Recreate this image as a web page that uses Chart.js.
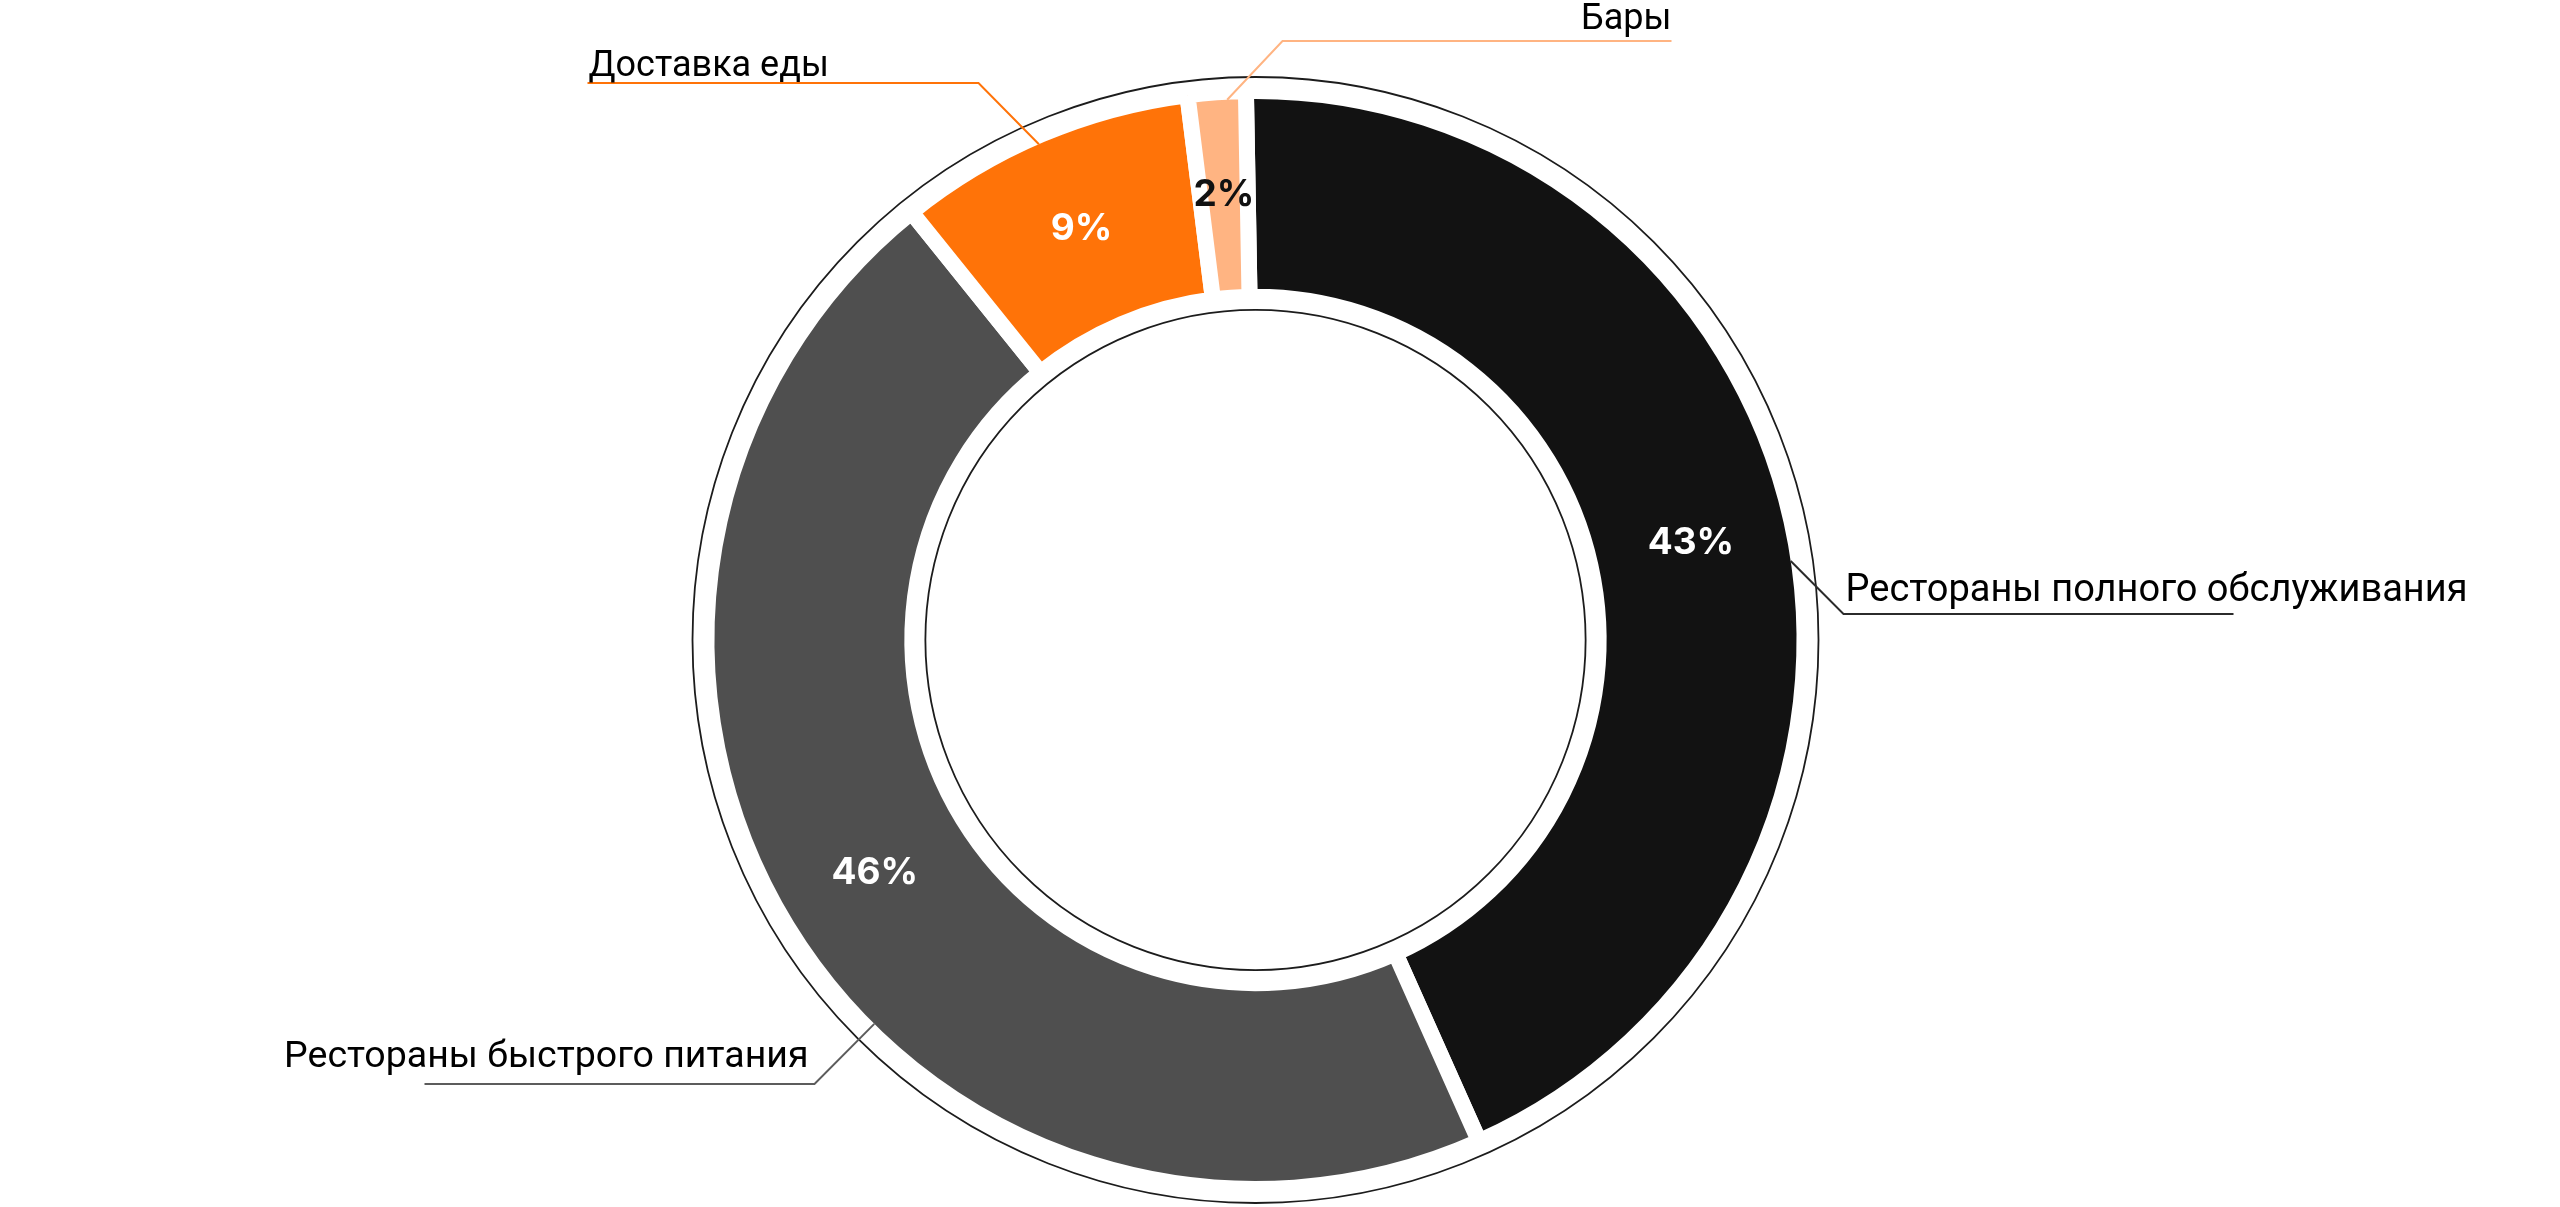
<!DOCTYPE html>
<html lang="ru">
<head>
<meta charset="utf-8">
<title>Структура рынка общественного питания</title>
<script src="https://cdn.jsdelivr.net/npm/chart.js@4.4.1/dist/chart.umd.min.js"></script>
<style>
  html, body { margin: 0; padding: 0; background: #fff; }
  #wrap { width: 2560px; height: 1207px; }
</style>
</head>
<body>
<div id="wrap"><canvas id="chart" width="2560" height="1207"></canvas></div>
<script>
const categories = ["Рестораны полного обслуживания", "Рестораны быстрого питания", "Доставка еды", "Бары"];
// slice sizes as drawn in the picture, and the rounded labels printed on them
const shares = [43.6, 45.9, 8.8, 1.7];
const shareLabels = ["43%", "46%", "9%", "2%"];
const sliceColors = ["#121212", "#4f4f4f", "#ff7308", "#ffb482"];
const valueColors = ["#ffffff", "#ffffff", "#ffffff", "#111111"];
const lineColors = ["#2b2b2b", "#5c5c5c", "#ff7308", "#ffb482"];

// callout layout: anchor angle (deg from top, clockwise), elbow and ends in px from the centre
const callouts = [
  { angle: 81.6, elbow: [588, -26], endX: 978, align: "left", textX: 590, textY: -39, size: 38 },
  { angle: 224.8, elbow: [-441, 444], endX: -831, align: "right", textX: -447, textY: 427, size: 37.5 },
  { angle: 336.4, elbow: [-277, -557], endX: -668, align: "left", textX: -667, textY: -564, size: 36 },
  { angle: 357.0, elbow: [27, -599], endX: 416, align: "right", textX: 416, textY: -611, size: 36 }
];

const GAP = 16;

const decorations = {
  id: "decorations",
  afterDatasetsDraw(chart) {
    const ctx = chart.ctx;
    const arcs = chart.getDatasetMeta(0).data;
    const a0 = arcs[0];
    const cx = a0.x, cy = a0.y;
    const outer = a0.outerRadius - GAP / 2;
    const inner = a0.innerRadius + GAP / 2;
    ctx.save();

    // thin rings around and inside the donut
    ctx.strokeStyle = "#1c1c1c";
    ctx.lineWidth = 1.8;
    ctx.beginPath();
    ctx.arc(cx, cy, outer + 22, 0, Math.PI * 2);
    ctx.stroke();
    ctx.beginPath();
    ctx.arc(cx, cy, inner - 21, 0, Math.PI * 2);
    ctx.stroke();

    // values on the slices
    ctx.font = "bold 37px Inter";
    ctx.textAlign = "center";
    ctx.textBaseline = "middle";
    arcs.forEach((arc, i) => {
      const p = arc.getCenterPoint();
      ctx.fillStyle = valueColors[i];
      ctx.fillText(shareLabels[i], p.x, p.y);
    });

    // callouts with category names
    ctx.textBaseline = "alphabetic";
    callouts.forEach((c, i) => {
      const rad = c.angle * Math.PI / 180;
      const ax = cx + outer * Math.sin(rad);
      const ay = cy - outer * Math.cos(rad);
      const ex = cx + c.elbow[0], ey = cy + c.elbow[1];
      ctx.strokeStyle = lineColors[i];
      ctx.lineWidth = 2;
      ctx.beginPath();
      ctx.moveTo(ax, ay);
      ctx.lineTo(ex, ey);
      ctx.lineTo(cx + c.endX, ey);
      ctx.stroke();
      ctx.font = c.size + "px Roboto";
      ctx.fillStyle = "#000000";
      ctx.textAlign = c.align;
      ctx.fillText(categories[i], cx + c.textX, cy + c.textY);
    });
    ctx.restore();
  }
};

new Chart(document.getElementById("chart"), {
  type: "doughnut",
  data: {
    labels: categories,
    datasets: [{
      data: shares,
      backgroundColor: sliceColors,
      borderColor: "#ffffff",
      borderWidth: GAP,
      borderAlign: "center",
      hoverOffset: 0
    }]
  },
  options: {
    responsive: false,
    devicePixelRatio: 1,
    animation: false,
    events: [],
    rotation: -1,
    radius: 541 + GAP / 2,
    cutout: "62.5%",
    layout: { padding: { top: 73, right: 49, left: 0, bottom: 0 } },
    plugins: {
      legend: { display: false },
      tooltip: { enabled: false }
    }
  },
  plugins: [decorations]
});
</script>
</body>
</html>
